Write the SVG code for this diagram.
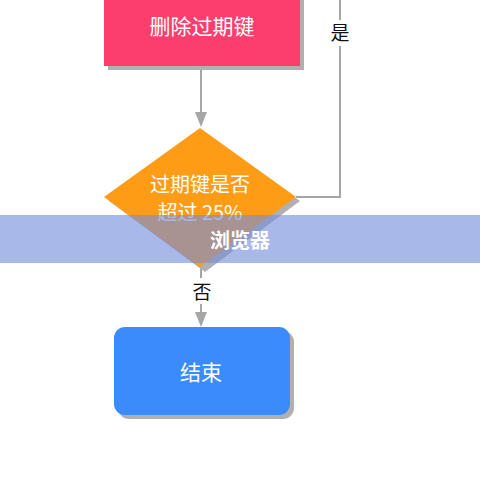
<svg xmlns="http://www.w3.org/2000/svg" width="480" height="480" viewBox="0 0 480 480">
<defs>
<style>
.lbl{font-family:"Noto Sans CJK SC","Noto Sans",sans-serif;fill:#fff;font-size:21px;text-anchor:middle}
.dl{font-size:20px}
.edge{fill:none;stroke:#a6a6a6;stroke-width:2}
.elbl{font-family:"Noto Sans CJK SC","Noto Sans",sans-serif;fill:#111;font-size:19px;text-anchor:middle}
.shadow{fill:#b0b0b0}
.head{fill:#a6a6a6}
</style>
</defs>
<rect width="480" height="480" fill="#fff"/>
<g id="connectors">
<path class="edge" d="M201,67 V120"/>
<path class="head" d="M195,112 L201,127 L207,112 z"/>
<path class="edge" d="M296,197 H340 V0"/>
<path class="edge" d="M201,268 V320"/>
<path class="head" d="M195,312 L201,327 L207,312 z"/>
<rect x="326" y="20" width="28" height="26" fill="#fff"/>
<text class="elbl" x="340" y="40">是</text>
<rect x="188" y="278" width="26" height="26" fill="#fff"/>
<text class="elbl" x="202" y="299">否</text>
</g>
<g id="delete">
<rect class="shadow" x="108" y="-10" width="196" height="80"/>
<rect x="104" y="-10" width="196" height="76" fill="#fc3e6e"/>
<text class="lbl" x="202" y="34">删除过期键</text>
</g>
<g id="check">
<path class="shadow" d="M201,132 L300,201 L205,272 L109,201 z"/>
<path d="M200,128 L296,197 L200,267 L104,197 z" fill="#fe9c16"/>
<text class="lbl dl" x="200" y="192">过期键是否</text>
<text class="lbl dl" x="200" y="220">超过 25%</text>
</g>
<g id="end">
<rect class="shadow" x="118" y="331" width="176" height="88" rx="11"/>
<rect x="114" y="327" width="176" height="88" rx="11" fill="#3a8cfc"/>
<text class="lbl" x="201" y="380">结束</text>
</g>
<g id="band">
<rect x="0" y="215" width="480" height="48" fill="rgb(117,142,218)" fill-opacity="0.63"/>
<text x="240" y="248" style="font-family:'Noto Sans CJK SC',sans-serif;font-weight:bold;font-size:20px;fill:#fff;text-anchor:middle">浏览器</text>
</g>
</svg>
